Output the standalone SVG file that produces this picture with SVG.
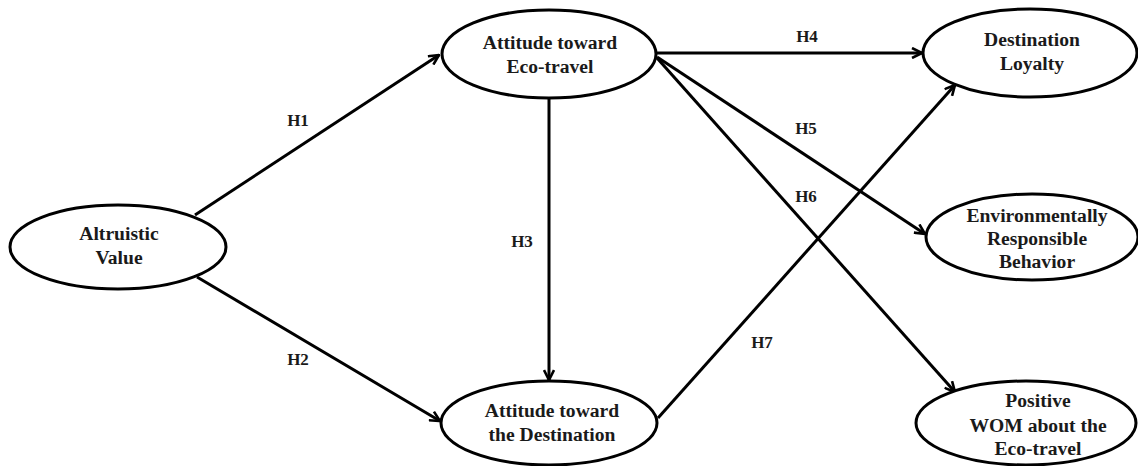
<svg xmlns="http://www.w3.org/2000/svg" width="1138" height="466" viewBox="0 0 1138 466">
<defs>
<style>
.node ellipse{fill:#fff;stroke:#000;stroke-width:3}
.node text{font-family:'Liberation Serif','DejaVu Serif',serif;font-weight:bold;font-size:19.6px;fill:#1a1a1a;text-anchor:middle}
.conn line{stroke:#000;stroke-width:3;fill:none}
.arr line{marker-end:url(#ah)}
.lbl{font-family:'Liberation Serif','DejaVu Serif',serif;font-weight:bold;font-size:17px;fill:#1a1a1a;text-anchor:middle}
</style>
<marker id="ah" viewBox="0 0 12 12" refX="11" refY="6" markerWidth="12" markerHeight="12" markerUnits="userSpaceOnUse" orient="auto">
<path d="M1,1 L11,6 L1,11" fill="none" stroke="#000" stroke-width="2.6" stroke-linejoin="miter"/>
</marker>
</defs>
<rect width="1138" height="466" fill="#fff"/>
<g id="connectors" class="conn">
<g class="arr">
<line id="h1" x1="195" y1="215" x2="439" y2="55"/>
<line id="h2" x1="197" y1="277" x2="440" y2="421"/>
<line id="h3" x1="549" y1="98" x2="549" y2="380"/>
<line id="h4" x1="656" y1="53" x2="922" y2="53"/>
<line id="h5" x1="657" y1="57" x2="925" y2="234"/>
<line id="h6" x1="657" y1="58" x2="955" y2="392"/>
<line id="h7" x1="658" y1="418" x2="955" y2="85"/>
</g>
<text class="lbl" x="298" y="126">H1</text>
<text class="lbl" x="298" y="365">H2</text>
<text class="lbl" x="522" y="247">H3</text>
<text class="lbl" x="807" y="42">H4</text>
<text class="lbl" x="806" y="134">H5</text>
<text class="lbl" x="806" y="202">H6</text>
<text class="lbl" x="762" y="348">H7</text>
</g>
<g id="altruistic" class="node">
<ellipse cx="118" cy="247" rx="108" ry="42"/>
<text x="119" y="240">Altruistic</text>
<text x="119" y="264">Value</text>
</g>
<g id="att-eco" class="node">
<ellipse cx="549" cy="54" rx="107" ry="44"/>
<text x="550" y="49">Attitude toward</text>
<text x="550" y="73">Eco-travel</text>
</g>
<g id="att-dest" class="node">
<ellipse cx="549" cy="423" rx="108" ry="42"/>
<text x="552" y="417">Attitude toward</text>
<text x="552" y="441">the Destination</text>
</g>
<g id="loyalty" class="node">
<ellipse cx="1030" cy="53" rx="107" ry="44"/>
<text x="1032" y="46">Destination</text>
<text x="1032" y="70">Loyalty</text>
</g>
<g id="erb" class="node">
<ellipse cx="1032" cy="237" rx="106" ry="43"/>
<text x="1037" y="222">Environmentally</text>
<text x="1037" y="245">Responsible</text>
<text x="1037" y="268">Behavior</text>
</g>
<g id="wom" class="node">
<ellipse cx="1026" cy="423" rx="110" ry="42"/>
<text x="1038" y="407">Positive</text>
<text x="1038" y="432">WOM about the</text>
<text x="1038" y="455">Eco-travel</text>
</g>
</svg>
